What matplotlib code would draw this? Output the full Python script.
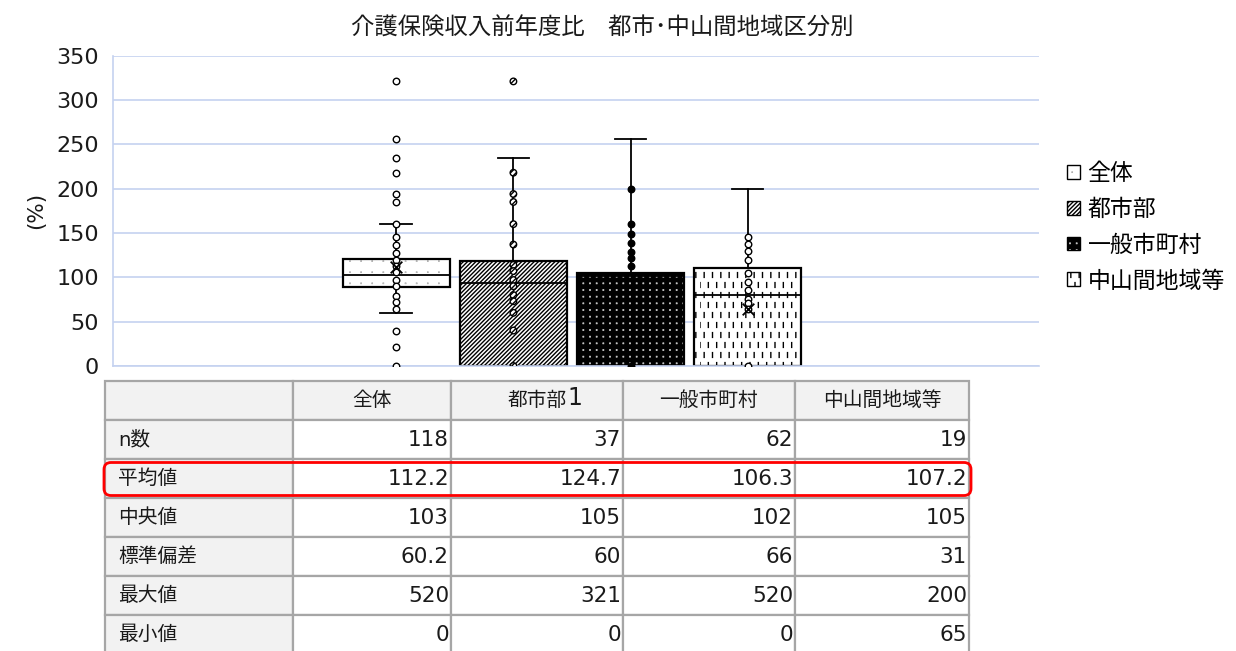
import warnings
import numpy as np
import matplotlib
matplotlib.use("Agg")
import matplotlib.pyplot as plt
import matplotlib.hatch as mhatch
from matplotlib.path import Path
from matplotlib.patches import Rectangle, FancyBboxPatch, PathPatch

warnings.filterwarnings("ignore", message=".*hatch must consist.*")
warnings.filterwarnings("ignore", category=matplotlib.MatplotlibDeprecationWarning)

plt.rcParams["font.family"] = ["DejaVu Sans", "Noto Sans CJK JP"]
plt.rcParams["hatch.linewidth"] = 1.0

# ---------------- data ----------------
title = "介護保険収入前年度比\u3000都市\uff65中山間地域区分別"
y_label = "(%)"
categories = ["全体", "都市部", "一般市町村", "中山間地域等"]

q1 = [89.5, 0, 0, 0]
median_line = [103, 94, 102, 80]
q3 = [120.5, 118, 105.3, 111]
whisker_low = [60, 0, 0, 0]
whisker_high = [160, 235, 256, 200]
mean_marker = [112.2, np.nan, np.nan, 64]

points_all = [321, 256, 235, 218, 194, 185, 160, 145, 137, 128, 119, 113,
              106, 97, 90, 79, 72, 64, 40, 21, 0]
points_urban = [321, 218, 194, 185, 160, 137, 114, 107, 97, 90, 80, 73, 60, 40, 0]
points_general = [200, 160, 149, 139, 129, 122, 113, 0]
points_rural = [145, 138, 130, 120, 105, 95, 86, 76, 71, 64, 0]

stat_labels = ["n数", "平均値", "中央値", "標準偏差", "最大値", "最小値"]
n_count = [118, 37, 62, 19]
mean_value = [112.2, 124.7, 106.3, 107.2]
median_value = [103, 105, 102, 105]
std_value = [60.2, 60, 66, 31]
max_value = [520, 321, 520, 200]
min_value = [0, 0, 0, 65]
header_labels = ["全体", "都市部", "一般市町村", "中山間地域等"]
header_note = ["", "1", "", ""]

y_ticks = [0, 50, 100, 150, 200, 250, 300, 350]


# ---------------- custom fill textures ----------------
class _GridMarks(mhatch.HatchPatternBase):
    """Regular grid of small marks inside the hatch tile."""
    char = "?"
    cols = 10
    rows = 10
    size = 0.005
    dash = False
    stagger = False

    def __init__(self, hatch, density):
        on = hatch.count(self.char) > 0
        self.nc = self.cols if on else 0
        self.nr = self.rows if on else 0
        per_mark = 2 if self.dash else 5
        self.num_vertices = per_mark * self.nc * self.nr

    def set_vertices_and_codes(self, vertices, codes):
        i, j = np.meshgrid(np.arange(self.nr), np.arange(self.nc), indexing="ij")
        shift = 0.5 * (i % 2) if self.stagger else 0.0
        xs = (((j + 0.5 + shift) / self.nc) % 1.0).ravel()
        ys = ((i + 0.5) / self.nr).ravel()
        h = self.size / 2
        if self.dash:
            vertices[0::2, 0] = xs
            vertices[0::2, 1] = ys - h
            vertices[1::2, 0] = xs
            vertices[1::2, 1] = ys + h
            codes[0::2] = Path.MOVETO
            codes[1::2] = Path.LINETO
        else:
            corners = [(-h, -h), (h, -h), (h, h), (-h, h), (-h, -h)]
            for k, (cx, cy) in enumerate(corners):
                vertices[k::5, 0] = xs + cx
                vertices[k::5, 1] = ys + cy
            codes[0::5] = Path.MOVETO
            codes[1::5] = Path.LINETO
            codes[2::5] = Path.LINETO
            codes[3::5] = Path.LINETO
            codes[4::5] = Path.CLOSEPOLY


class SparseDots(_GridMarks):
    char = ":"
    cols = 9
    rows = 9
    size = 0.002


class FineDots(_GridMarks):
    char = ";"
    cols = 15
    rows = 15
    size = 0.003


class ShortDashes(_GridMarks):
    char = "!"
    cols = 12
    rows = 10
    size = 0.048
    dash = True
    stagger = True


mhatch._hatch_types.extend([SparseDots, FineDots, ShortDashes])

# fill style per category: (face, hatch, hatch colour)
box_styles = [
    ("white", ":", "#8c8c8c"),
    ("white", "////////", "black"),
    ("black", ";", "white"),
    ("white", "!", "black"),
]

# ---------------- figure ----------------
W, H = 1236, 651
fig = plt.figure(figsize=(W / 100, H / 100), dpi=100)


def fx(px):
    return px / W


def fy(py):
    return 1 - py / H


grid_color = "#c5d2f0"
ax_left, ax_right, ax_top, ax_bot = 113, 1039, 55.7, 366
ax = fig.add_axes([fx(ax_left), fy(ax_bot), fx(ax_right - ax_left), (ax_bot - ax_top) / H])

positions = [1, 2, 3, 4]
stats = []
for i in range(4):
    stats.append(dict(med=median_line[i], q1=q1[i], q3=q3[i],
                      whislo=whisker_low[i], whishi=whisker_high[i],
                      fliers=[], label=categories[i]))

bp = ax.bxp(stats, positions=positions, widths=0.914, capwidths=0.27,
            patch_artist=True, showfliers=False,
            whiskerprops=dict(color="black", lw=1.3),
            capprops=dict(color="black", lw=1.3),
            medianprops=dict(color="black", lw=1.3, zorder=2.6),
            manage_ticks=False)

for box, (face, hatch, hcol) in zip(bp["boxes"], box_styles):
    box.set_facecolor(face)
    box.set_edgecolor(hcol)
    box.set_hatch(hatch)
    box.set_linewidth(0)
    box.set_zorder(2)
    ax.add_patch(PathPatch(box.get_path(), fill=False, edgecolor="black",
                           lw=1.6, zorder=2.5))

point_sets = [points_all, points_urban, points_general, points_rural]
point_face = ["white", "white", "black", "white"]
point_hatch = [None, "//////", None, None]
for pos, pts, fc, ht in zip(positions, point_sets, point_face, point_hatch):
    ax.scatter(np.full(len(pts), pos), pts, s=22, facecolor=fc,
               edgecolor="black", linewidth=1.0, zorder=4, hatch=ht)

ax.scatter(positions, mean_marker, marker="x", s=70, color="black",
           linewidth=1.3, zorder=5)

ax.set_xlim(-1.419, 6.488)
ax.set_ylim(0, 350)
ax.set_yticks(y_ticks)
ax.set_yticklabels([str(t) for t in y_ticks], fontsize=16)
ax.tick_params(axis="y", length=0, pad=10, colors="#1a1a1a")
ax.set_xticks([])
ax.grid(axis="y", color=grid_color, lw=1.2)
ax.set_axisbelow(True)
for side in ("top", "right"):
    ax.spines[side].set_visible(False)
for side in ("left", "bottom"):
    ax.spines[side].set_color(grid_color)
    ax.spines[side].set_linewidth(1.2)

fig.text(fx(602), fy(28), title, ha="center", va="center", fontsize=16.8,
         color="#1a1a1a")
fig.text(fx(36), fy(210), y_label, rotation=90, ha="center", va="center",
         fontsize=15.5, color="#1a1a1a")

# legend: textured square + outline for each category
handles = []
for face, hatch, hcol in box_styles:
    fill = Rectangle((0, 0), 1, 1, facecolor=face, edgecolor=hcol, hatch=hatch, lw=0)
    edge = Rectangle((0, 0), 1, 1, fill=False, edgecolor="black", lw=1.0)
    handles.append((fill, edge))
fig.legend(handles, categories, loc="upper left",
           bbox_to_anchor=(fx(1067), fy(162)), frameon=False, fontsize=16.5,
           handlelength=0.55, handleheight=0.55, handletextpad=0.35,
           labelspacing=0.56, borderpad=0, borderaxespad=0)

# ---------------- statistics table ----------------
col_edges = [105, 293, 451, 623, 795, 969]
row_top = 381
row_h = 39
n_rows = 7
tab_bottom = row_top + row_h * n_rows
tax = fig.add_axes([fx(col_edges[0]), fy(tab_bottom),
                    fx(col_edges[-1] - col_edges[0]), (tab_bottom - row_top) / H])
tax.set_xlim(col_edges[0], col_edges[-1])
tax.set_ylim(tab_bottom, row_top)
tax.axis("off")

table_values = [n_count, mean_value, median_value, std_value, max_value, min_value]
header_bg = "#f2f2f2"
line_color = "#a6a6a6"

for r in range(n_rows):
    y0 = row_top + r * row_h
    for c in range(5):
        x0, x1 = col_edges[c], col_edges[c + 1]
        bg = header_bg if (r == 0 or c == 0) else "white"
        tax.add_patch(Rectangle((x0, y0), x1 - x0, row_h, facecolor=bg,
                                edgecolor=line_color, lw=1.6, clip_on=False))
    yc = y0 + row_h / 2
    if r == 0:
        for c in range(4):
            xc = (col_edges[c + 1] + col_edges[c + 2]) / 2
            t = tax.text(xc, yc, header_labels[c], ha="center", va="center",
                         fontsize=14.2, color="#1a1a1a")
            if header_note[c]:
                tax.annotate(header_note[c], xy=(1.02, 0.28), xycoords=t,
                             ha="left", va="baseline", fontsize=17,
                             color="#1a1a1a")
    else:
        tax.text(col_edges[0] + 13, yc, stat_labels[r - 1], ha="left",
                 va="center", fontsize=14.2, color="#1a1a1a")
        for c in range(4):
            tax.text(col_edges[c + 2] - 2, yc, f"{table_values[r - 1][c]:g}",
                     ha="right", va="center", fontsize=15.5, color="#1a1a1a")

# highlight around the mean row
tax.add_patch(FancyBboxPatch((104, 462.5), 867, 33,
                             boxstyle="round,pad=0,rounding_size=7",
                             fill=False, edgecolor="#ff0000", lw=2.0,
                             clip_on=False, zorder=5))

fig.savefig("out.png", dpi=100)
